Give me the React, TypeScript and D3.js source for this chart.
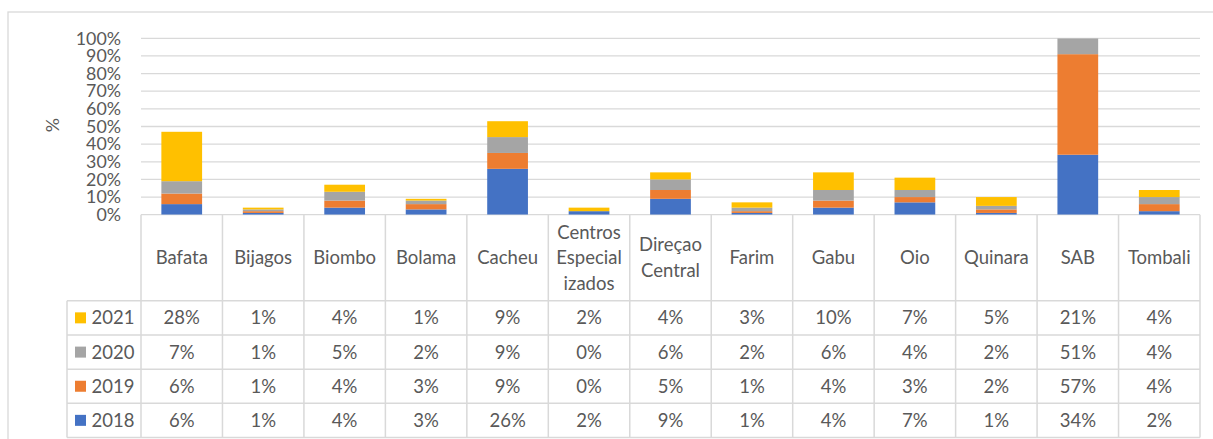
import React from "react";
import * as d3 from "d3";

const categories: string[][] = [
  ["Bafata"], ["Bijagos"], ["Biombo"], ["Bolama"], ["Cacheu"],
  ["Centros", "Especial", "izados"], ["Direçao", "Central"], ["Farim"],
  ["Gabu"], ["Oio"], ["Quinara"], ["SAB"], ["Tombali"],
];
const years = ["2018", "2019", "2020", "2021"];
const v2018 = [6, 1, 4, 3, 26, 2, 9, 1, 4, 7, 1, 34, 2];
const v2019 = [6, 1, 4, 3, 9, 0, 5, 1, 4, 3, 2, 57, 4];
const v2020 = [7, 1, 5, 2, 9, 0, 6, 2, 6, 4, 2, 51, 4];
const v2021 = [28, 1, 4, 1, 9, 2, 4, 3, 10, 7, 5, 21, 4];
const yTicks = [0, 10, 20, 30, 40, 50, 60, 70, 80, 90, 100];
const colors = ["#4472C4", "#ED7D31", "#A5A5A5", "#FFC000"];

export default function App() {
  const W = 1213, H = 439;
  const left = 141, right = 1200, top = 38.3, bottom = 214.7;
  const rowTops = [300.7, 335, 369.2, 403.3, 437.4];
  const tableLeft = 67;
  const font = "Lato, 'Open Sans', sans-serif";
  const txt = "#595959";
  const grid = "#d9d9d9";
  const fsTick = 17.8;
  const fsTab = 18.5;

  const series = [v2018, v2019, v2020, v2021];
  const rows = categories.map((c, i) => ({ i, "2018": v2018[i], "2019": v2019[i], "2020": v2020[i], "2021": v2021[i] }));
  const stack = d3.stack<any>().keys(years)(rows);

  const x = d3.scaleBand<number>().domain(categories.map((_, i) => i)).range([left, right]).paddingInner(0).paddingOuter(0);
  const y = d3.scaleLinear().domain([0, 100]).range([bottom, top]);
  const bw = x.bandwidth() * 0.5;

  const tableOrder = [3, 2, 1, 0];

  return (
    <svg width={W} height={H} style={{ position: "absolute", left: 0, top: 0 }} fontFamily={font}>
      <rect x={0} y={0} width={W} height={H} fill="#fff" />
      <rect x={8} y={12} width={W + 20} height={H + 20} fill="none" stroke={grid} strokeWidth={1.3} />
      <defs>
        <clipPath id="plotclip">
          <rect x={left} y={top} width={right - left} height={bottom - top} />
        </clipPath>
      </defs>
      {yTicks.map((t) => (
        <g key={t}>
          <line x1={left} x2={right} y1={y(t)} y2={y(t)} stroke={grid} strokeWidth={1.3} />
          <text x={121} y={y(t)} dy="0.35em" textAnchor="end" fontSize={fsTick} fill={txt}>{t}%</text>
        </g>
      ))}
      <text transform={`translate(53,125) rotate(-90)`} textAnchor="middle" dy="0.35em" fontSize={fsTick} fill={txt}>%</text>
      <g clipPath="url(#plotclip)">
        {stack.map((s, si) => (
          <g key={si} fill={colors[si]}>
            {s.map((d, i) => {
              const y0 = y(Math.min(d[0], 100));
              const y1 = y(Math.min(d[1], 100));
              return <rect key={i} x={x(i)! + (x.bandwidth() - bw) / 2} y={y1} width={bw} height={Math.max(0, y0 - y1)} />;
            })}
          </g>
        ))}
      </g>
      {/* table */}
      {categories.map((c, i) => {
        const cx = x(i)! + x.bandwidth() / 2;
        const cy = (bottom + rowTops[0]) / 2;
        const lh = 25.5;
        return (
          <g key={i}>
            {c.map((line, li) => (
              <text key={li} x={cx} y={cy + (li - (c.length - 1) / 2) * lh} dy="0.35em" textAnchor="middle" fontSize={fsTab} fill={txt}>{line}</text>
            ))}
            {tableOrder.map((si, ri) => (
              <text key={si} x={cx} y={(rowTops[ri] + rowTops[ri + 1]) / 2} dy="0.35em" textAnchor="middle" fontSize={fsTab} fill={txt}>{series[si][i]}%</text>
            ))}
          </g>
        );
      })}
      {tableOrder.map((si, ri) => {
        const cy = (rowTops[ri] + rowTops[ri + 1]) / 2;
        return (
          <g key={si}>
            <rect x={75} y={cy - 5.5} width={11} height={11} fill={colors[si]} />
            <text x={91.5} y={cy} dy="0.35em" fontSize={fsTab} fill={txt}>{years[si]}</text>
          </g>
        );
      })}
      {rowTops.map((ry, k) => (
        <line key={k} x1={tableLeft} x2={right} y1={ry} y2={ry} stroke={grid} strokeWidth={1.5} />
      ))}
      <line x1={tableLeft} x2={tableLeft} y1={rowTops[0]} y2={rowTops[4]} stroke={grid} strokeWidth={1.5} />
      {d3.range(categories.length + 1).map((k) => {
        const xx = left + k * x.bandwidth();
        return <line key={k} x1={xx} x2={xx} y1={bottom} y2={rowTops[4]} stroke={grid} strokeWidth={1.5} />;
      })}
    </svg>
  );
}
